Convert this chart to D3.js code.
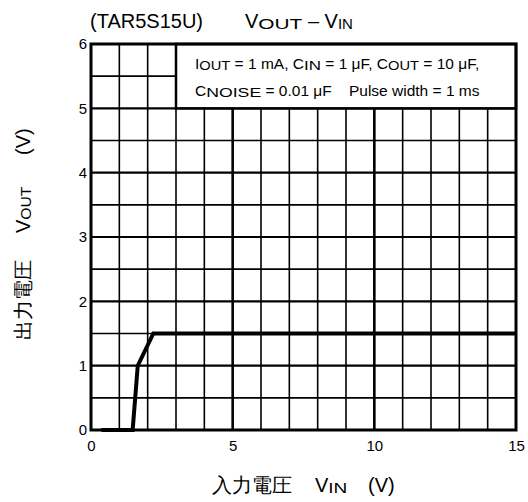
<!DOCTYPE html>
<html><head><meta charset="utf-8">
<script src="https://cdn.jsdelivr.net/npm/d3@7"></script>
<style>body{margin:0;background:#fff}svg{display:block}text{font-family:"Liberation Sans",Arial,sans-serif;fill:#000}</style>
</head><body><div id="c"></div>
<script>
const vin = [0.37, 1.47, 1.65, 2.2, 15];
const vout = [0, 0, 1.0, 1.5, 1.5];
const xTicks = [0, 5, 10, 15];
const yTicks = [0, 1, 2, 3, 4, 5, 6];
const xGrid = d3.range(1, 15, 1);
const yGrid = d3.range(0.5, 6, 0.5);

const W = 528, H = 502;
const m = {l: 91, r: 12, t: 44, b: 72};
const svg = d3.select("#c").append("svg").attr("width", W).attr("height", H);
const x = d3.scaleLinear().domain([0, 15]).range([m.l, W - m.r]);
const y = d3.scaleLinear().domain([0, 6]).range([H - m.b, m.t]);

const g = svg.append("g");
g.selectAll(".vx").data(xGrid).join("line")
  .attr("x1", d => x(d)).attr("x2", d => x(d)).attr("y1", y(0)).attr("y2", y(6))
  .attr("stroke", "#000").attr("stroke-width", d => d % 5 === 0 ? 2.6 : 1.6);
g.selectAll(".hy").data(yGrid).join("line")
  .attr("x1", x(0)).attr("x2", x(15)).attr("y1", d => y(d)).attr("y2", d => y(d))
  .attr("stroke", "#000").attr("stroke-width", d => d % 1 === 0 ? 2.2 : 1.6);

// legend box
g.append("rect").attr("x", x(3)).attr("y", y(6)).attr("width", x(15) - x(3)).attr("height", y(5) - y(6))
  .attr("fill", "#fff").attr("stroke", "#000").attr("stroke-width", 2.5);

// frame
g.append("rect").attr("x", x(0)).attr("y", y(6)).attr("width", x(15) - x(0)).attr("height", y(0) - y(6))
  .attr("fill", "none").attr("stroke", "#000").attr("stroke-width", 3);

// axes tick labels
const xa = svg.append("g").attr("transform", `translate(0,${y(0)})`)
  .call(d3.axisBottom(x).tickValues(xTicks).tickFormat(d3.format("d")).tickSize(0).tickPadding(10));
xa.select(".domain").remove();
xa.selectAll("text").attr("font-size", 15).attr("font-family", "Liberation Sans, Arial, sans-serif");
const ya = svg.append("g").attr("transform", `translate(${x(0)},0)`)
  .call(d3.axisLeft(y).tickValues(yTicks).tickFormat(d3.format("d")).tickSize(0).tickPadding(4));
ya.select(".domain").remove();
ya.selectAll("text").attr("font-size", 15).attr("font-family", "Liberation Sans, Arial, sans-serif");

// data line
const pts = vin.map((v, i) => [v, vout[i]]);
svg.append("path").datum(pts)
  .attr("d", d3.line().x(d => x(d[0])).y(d => y(d[1])))
  .attr("fill", "none").attr("stroke", "#000").attr("stroke-width", 4).attr("stroke-linejoin", "miter");

// helper: text with subscripts; parts: [text, subWidth?]
function rich(t, parts, size, subSize) {
  t.attr("xml:space", "preserve");
  parts.forEach(p => {
    const s = t.append("tspan").text(p[0]);
    if (p[1]) s.attr("font-size", subSize).attr("baseline-shift", "-1")
      .attr("textLength", p[1]).attr("lengthAdjust", "spacingAndGlyphs");
    else s.attr("font-size", size);
  });
  return t;
}

// legend text
rich(svg.append("text").attr("x", 195).attr("y", 69),
  [["I"], ["OUT", 31], [" = 1 mA, C"], ["IN", 17], [" = 1 μF, C"], ["OUT", 31], [" = 10 μF,"]], 15.5, 13);
rich(svg.append("text").attr("x", 195).attr("y", 96),
  [["C"], ["NOISE", 55], [" = 0.01 μF    Pulse width = 1 ms"]], 15.5, 13);

// title
svg.append("text").attr("x", 90).attr("y", 28).attr("font-size", 20).text("(TAR5S15U)");
rich(svg.append("text").attr("x", 245).attr("y", 28),
  [["V"], ["OUT", 44], [" – V"], ["IN", 15]], 20, 15);

// x label
svg.append("text").attr("x", 212).attr("y", 492).attr("font-size", 20)
  .attr("font-family", "Noto Sans CJK JP").text("入力電圧");
rich(svg.append("text").attr("x", 315).attr("y", 492), [["V"], ["IN", 19]], 20, 15);
svg.append("text").attr("x", 368).attr("y", 492).attr("font-size", 20).text("(V)");

// y label
const yg = svg.append("g").attr("transform", "translate(30,340) rotate(-90)");
yg.append("text").attr("x", 0).attr("y", 0).attr("font-size", 20)
  .attr("font-family", "Noto Sans CJK JP").text("出力電圧");
rich(yg.append("text").attr("x", 107).attr("y", 0), [["V"], ["OUT", 33]], 20, 15);
yg.append("text").attr("x", 185).attr("y", 0).attr("font-size", 20).text("(V)");
</script></body></html>
